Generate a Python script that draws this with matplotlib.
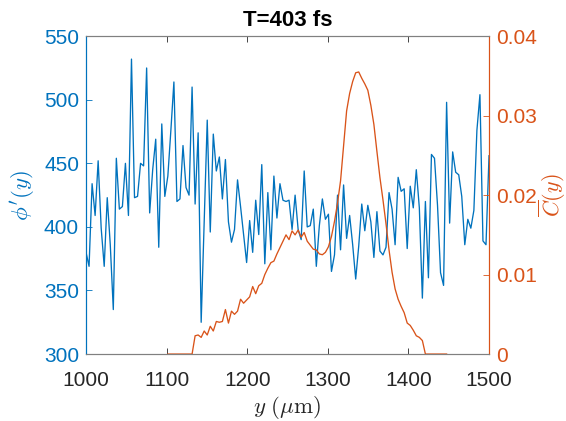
import numpy as np
import matplotlib
matplotlib.use("Agg")
import matplotlib.pyplot as plt

plt.rcParams["font.family"] = ["Liberation Sans", "DejaVu Sans"]
plt.rcParams["mathtext.fontset"] = "cm"

BLUE = "#0072BD"
ORANGE = "#D95319"
AXGRAY = "#262626"

# sample grid along y (um)
y_start, y_stop, n_samples = 1000, 1500, 134

# phase derivative phi'(y)
phi_prime = [
    380, 369, 434, 409, 452, 399, 369, 423, 386, 335,
    454, 414, 416, 450, 409, 532, 423, 424, 450, 448,
    525, 411, 445, 469, 384, 481, 424, 440, 476, 514,
    420, 422, 464, 431, 425, 510, 418, 474, 325, 405,
    484, 396, 473, 444, 455, 422, 453, 404, 388, 398,
    437, 416, 394, 372, 405, 380, 421, 394, 449, 371,
    427, 382, 440, 407, 434, 421, 420, 421, 398, 425,
    398, 390, 444, 400, 401, 414, 369, 401, 422, 406,
    410, 365, 378, 425, 382, 433, 391, 409, 386, 359,
    385, 418, 397, 417, 404, 376, 412, 381, 378, 384,
    427, 414, 386, 439, 428, 430, 383, 432, 415, 445,
    415, 344, 420, 360, 457, 454, 417, 364, 354, 498,
    403, 459, 443, 441, 424, 386, 406, 399, 413, 476,
    504, 389, 386, 456,
]

# concentration profile C(y), defined on samples 27..119 of the grid
c_first, c_last = 27, 119
c_bar = [
    0, 0, 0, 0, 0, 0, 0, 0, 0,
    0.0023, 0.0024, 0.0021, 0.0029, 0.0024, 0.0035, 0.0029, 0.0041, 0.0040, 0.0041,
    0.0056, 0.0039, 0.0054, 0.0050, 0.0054, 0.0069, 0.0064, 0.0068, 0.0072, 0.0085,
    0.0076, 0.0086, 0.0089, 0.0100, 0.0108, 0.0115, 0.0117, 0.0126, 0.0134, 0.0142,
    0.0150, 0.0144, 0.0155, 0.0150, 0.0156, 0.0147, 0.0153, 0.0142, 0.0137, 0.0132,
    0.0131, 0.0126, 0.0125, 0.0128, 0.0135, 0.0148, 0.0167, 0.0190, 0.0218, 0.0262,
    0.0306, 0.0328, 0.0343, 0.0354, 0.0355, 0.0347, 0.0340, 0.0332, 0.0313, 0.0289,
    0.0255, 0.0222, 0.0194, 0.0164, 0.0131, 0.0103, 0.0082, 0.0069, 0.0060, 0.0052,
    0.0039, 0.0036, 0.0030, 0.0023, 0.0021, 0.0017,
    0, 0, 0, 0, 0, 0, 0, 0,
]

left_ticks = [300, 350, 400, 450, 500, 550]
right_ticks = [0, 0.01, 0.02, 0.03, 0.04]
right_ticklabels = ["0", "0.01", "0.02", "0.03", "0.04"]
x_ticks = [1000, 1100, 1200, 1300, 1400, 1500]

y_um = np.linspace(y_start, y_stop, n_samples)
y_c = y_um[c_first:c_last + 1]

fig = plt.figure(figsize=(5.66, 4.21), dpi=100)
ax = fig.add_axes([0.152, 0.159, 0.712, 0.755])
ax2 = ax.twinx()

ax.plot(y_um, phi_prime, color=BLUE, lw=0.95)
ax2.plot(y_c, c_bar, color=ORANGE, lw=0.95)

ax.set_xlim(1000, 1500)
ax.set_ylim(300, 550)
ax2.set_ylim(0, 0.04)
ax.set_xticks(x_ticks)
ax.set_yticks(left_ticks)
ax2.set_yticks(right_ticks)
ax2.set_yticklabels(right_ticklabels)

fs = 15
ax.tick_params(axis="x", direction="in", length=4, width=0.6, colors=AXGRAY,
               labelsize=fs, top=True, pad=12)
ax.tick_params(axis="y", direction="in", length=4, width=0.6, colors=BLUE,
               labelsize=fs, pad=5)
ax2.tick_params(axis="y", direction="in", length=4, width=0.6, colors=ORANGE,
                labelsize=fs, pad=5)
ax2.tick_params(axis="x", top=False, bottom=False)

for a in (ax, ax2):
    a.spines["top"].set_color("#808080")
    a.spines["bottom"].set_color("#808080")
    a.spines["left"].set_color(BLUE)
    a.spines["right"].set_color(ORANGE)
    for s in a.spines.values():
        s.set_linewidth(0.8)

ax.set_xlabel(r"$y\ (\mu\mathrm{m})$", fontsize=16.5, color=AXGRAY, labelpad=3)
ax.set_ylabel(r"$\phi'(y)$", fontsize=16.5, color=BLUE, labelpad=5)
ax2.set_ylabel(r"$\overline{C}(y)$", fontsize=16, color=ORANGE, rotation=90,
               labelpad=0)
ax.set_title("T=403 fs", fontsize=16, fontweight="bold", pad=7)

fig.savefig("out.png", dpi=100)
